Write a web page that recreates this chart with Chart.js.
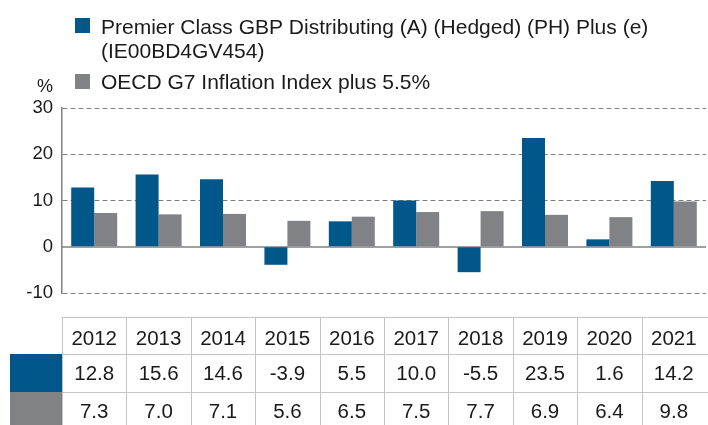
<!DOCTYPE html>
<html>
<head>
<meta charset="utf-8">
<script src="https://cdn.jsdelivr.net/npm/chart.js"></script>
<style>
  html, body { margin: 0; padding: 0; background: #fff; }
  #wrap { width: 708px; height: 425px; position: relative; }
</style>
</head>
<body>
<div id="wrap"><canvas id="chart" width="708" height="425"></canvas></div>
<script>
const years = ['2012', '2013', '2014', '2015', '2016', '2017', '2018', '2019', '2020', '2021'];
const fundReturns = [12.8, 15.6, 14.6, -3.9, 5.5, 10.0, -5.5, 23.5, 1.6, 14.2];
const inflationPlus = [7.3, 7.0, 7.1, 5.6, 6.5, 7.5, 7.7, 6.9, 6.4, 9.8];
const fundLabel = ['Premier Class GBP Distributing (A) (Hedged) (PH) Plus (e)', '(IE00BD4GV454)'];
const benchLabel = 'OECD G7 Inflation Index plus 5.5%';

const BLUE = '#02578a';
const GREY = '#818285';
const TEXT = '#1a1a1a';
const FONT = 'Arial, "Liberation Sans", sans-serif';

// legend, % label, zero line and the data table underneath
const extras = {
  id: 'extras',
  beforeDatasetsDraw(chart) {
    const ctx = chart.ctx, y = chart.scales.y, area = chart.chartArea;
    const y0 = Math.round(y.getPixelForValue(0));
    ctx.save();
    ctx.strokeStyle = '#808080';
    ctx.lineWidth = 1.5;
    ctx.beginPath();
    ctx.moveTo(area.left, y0);
    ctx.lineTo(area.right, y0);
    ctx.stroke();
    ctx.restore();
  },
  afterDraw(chart) {
    const ctx = chart.ctx, x = chart.scales.x;
    ctx.save();

    // legend
    ctx.fillStyle = BLUE;
    ctx.fillRect(75, 18, 15, 15);
    ctx.fillStyle = GREY;
    ctx.fillRect(75, 74, 15, 15);
    ctx.fillStyle = TEXT;
    ctx.font = '21px ' + FONT;
    ctx.textBaseline = 'alphabetic';
    ctx.textAlign = 'left';
    ctx.fillText(fundLabel[0], 101, 34);
    ctx.fillText(fundLabel[1], 101, 58);
    ctx.fillText(benchLabel, 101, 89);

    ctx.font = '18px ' + FONT;
    ctx.fillText('%', 37, 92);

    // table
    const half = (x.getPixelForValue(1) - x.getPixelForValue(0)) / 2;
    const top = 317, r1 = 354, r2 = 392, bottom = 430;
    const left = x.getPixelForValue(0) - half;
    const right = 710;

    ctx.fillStyle = BLUE;
    ctx.fillRect(10, r1, left - 10, r2 - r1);
    ctx.fillStyle = GREY;
    ctx.fillRect(10, r2, left - 10, bottom - r2);

    ctx.strokeStyle = '#c4c4c4';
    ctx.lineWidth = 1;
    ctx.beginPath();
    ctx.moveTo(left, top + 0.5); ctx.lineTo(right, top + 0.5);
    ctx.moveTo(left, r1 + 0.5); ctx.lineTo(right, r1 + 0.5);
    ctx.moveTo(left, r2 + 0.5); ctx.lineTo(right, r2 + 0.5);
    for (let i = 0; i < years.length; i++) {
      const lx = Math.round(x.getPixelForValue(i) - half) + 0.5;
      ctx.moveTo(lx, top); ctx.lineTo(lx, bottom);
    }
    ctx.stroke();

    ctx.fillStyle = TEXT;
    ctx.font = '20.5px ' + FONT;
    ctx.textAlign = 'center';
    ctx.textBaseline = 'middle';
    years.forEach((yr, i) => {
      const cx = x.getPixelForValue(i);
      ctx.fillText(yr, cx, 339);
      ctx.fillText(fundReturns[i].toFixed(1), cx, 374);
      ctx.fillText(inflationPlus[i].toFixed(1), cx, 412);
    });
    ctx.restore();
  }
};

new Chart(document.getElementById('chart'), {
  type: 'bar',
  data: {
    labels: years,
    datasets: [
      { label: fundLabel.join(' '), data: fundReturns, backgroundColor: BLUE },
      { label: benchLabel, data: inflationPlus, backgroundColor: GREY }
    ]
  },
  options: {
    responsive: false,
    devicePixelRatio: 1,
    animation: false,
    layout: { padding: { top: 108, right: 2, bottom: 132, left: 0 } },
    categoryPercentage: 0.714,
    barPercentage: 1,
    plugins: { legend: { display: false }, tooltip: { enabled: false } },
    scales: {
      x: {
        display: false
      },
      y: {
        min: -10,
        max: 30,
        afterFit(scale) { scale.width = 62; },
        ticks: {
          stepSize: 10,
          padding: 9,
          color: TEXT,
          font: { family: FONT, size: 18.5 }
        },
        grid: {
          drawTicks: false,
          color: (c) => c.tick && c.tick.value === 0 ? 'rgba(0,0,0,0)' : '#808080',
          lineWidth: 1
        },
        border: { display: true, color: '#808080', width: 1.5, dash: [5, 3] }
      }
    }
  },
  plugins: [extras]
});
</script>
</body>
</html>
